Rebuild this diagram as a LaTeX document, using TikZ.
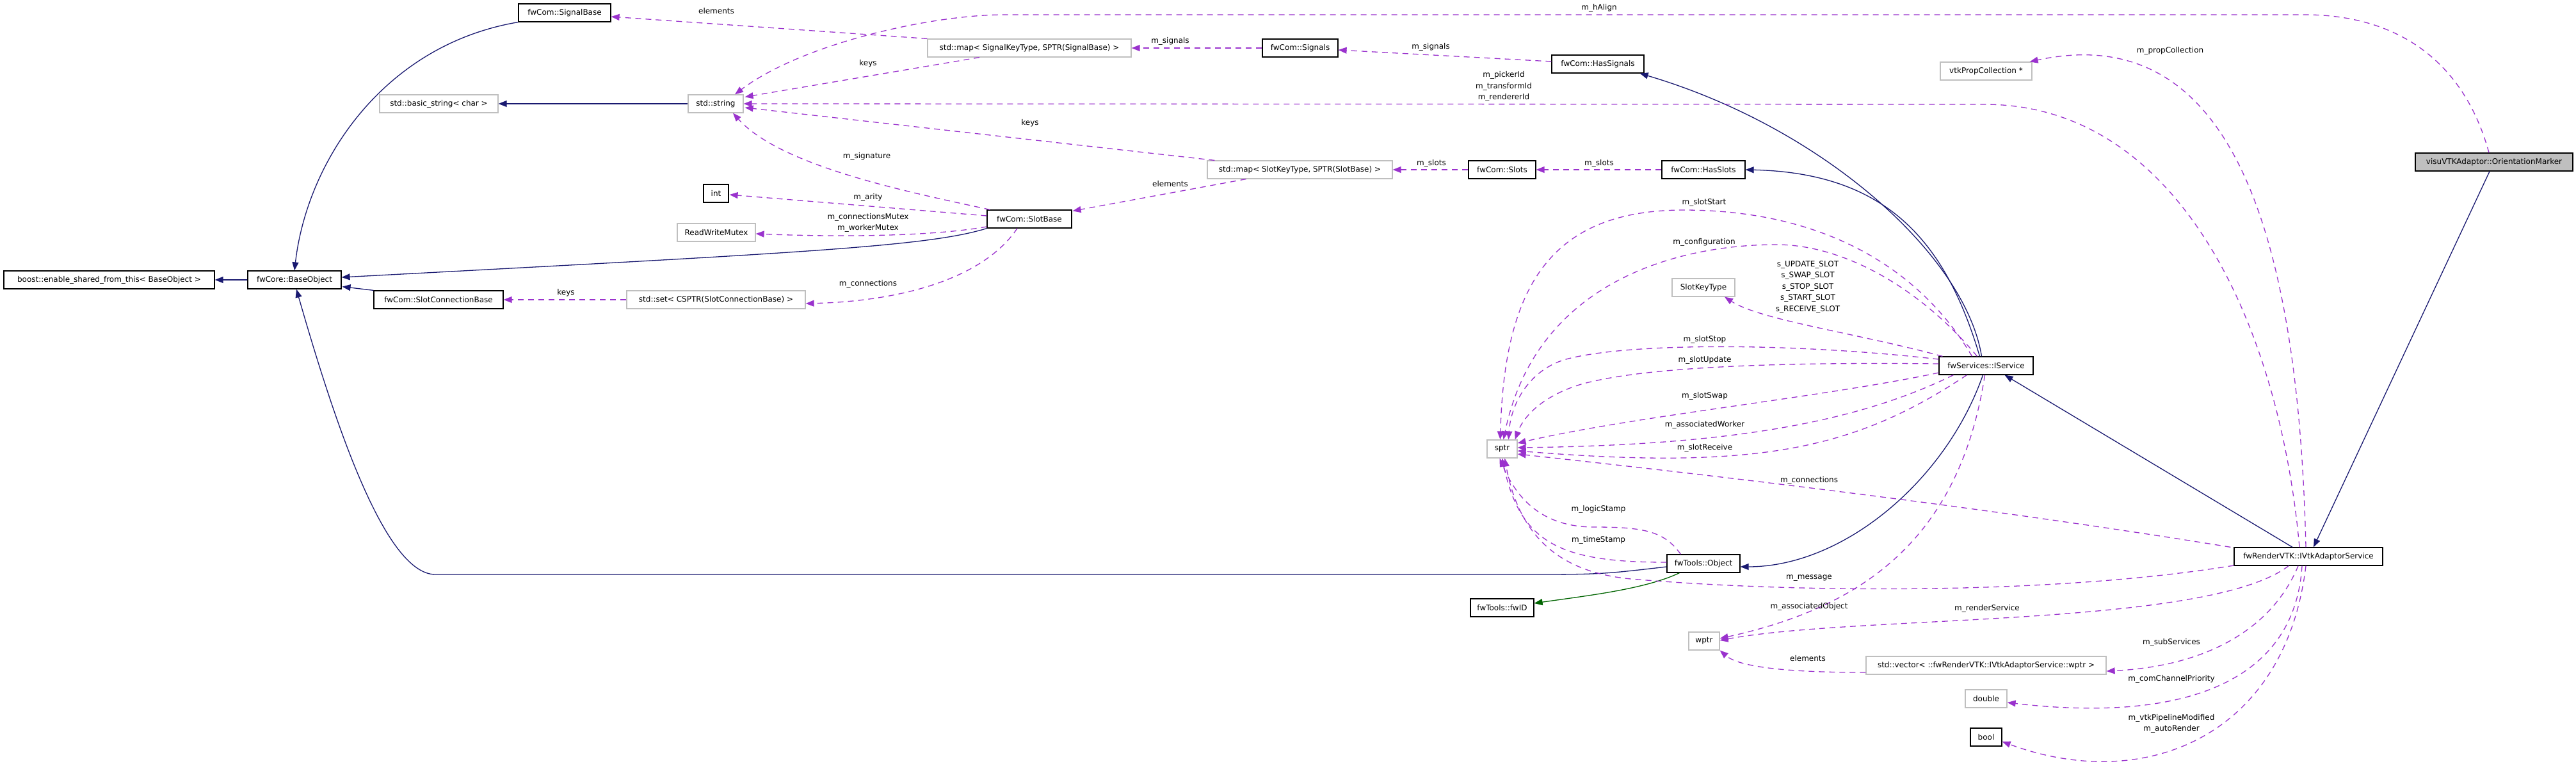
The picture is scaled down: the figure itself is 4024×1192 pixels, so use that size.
\documentclass[tikz,border=0pt]{standalone}
\usepackage{fontspec}
\setmainfont{DejaVu Sans}
\usetikzlibrary{arrows.meta,calc}
\definecolor{blu}{HTML}{191970}
\definecolor{purp}{HTML}{9A32CD}
\definecolor{grn}{HTML}{006400}
\definecolor{gbord}{HTML}{BFBFBF}
\begin{document}
\begin{tikzpicture}[x=1pt,y=-1pt,
 every node/.style={font=\fontsize{12}{17.5}\selectfont},
 cls/.style={draw=black,line width=1.2pt,fill=white,minimum height=28pt,inner sep=0pt},
 ext/.style={cls,draw=gbord},
 inh/.style={draw=blu,line width=1.3pt,-{Triangle[length=13pt,width=10pt]}},
 prot/.style={draw=grn,line width=1.3pt,-{Triangle[length=13pt,width=10pt]}},
 use/.style={draw=purp,line width=1.3pt,dash pattern=on 9pt off 7pt,-{Triangle[length=13pt,width=10pt]}},
 lbl/.style={text=black,inner sep=0pt,align=center}]
\useasboundingbox (0,0) rectangle (4024,1192);
% nodes
\node[cls,minimum width=144pt] (sigbase) at (882,20) {fwCom::SignalBase};
\node[ext,minimum width=185pt] (bstr) at (685.5,162) {std::basic\_string< char >};
\node[ext,minimum width=86pt] (str) at (1118,162) {std::string};
\node[cls,minimum width=329pt] (boost) at (170.5,437) {boost::enable\_shared\_from\_this< BaseObject >};
\node[cls,minimum width=146pt] (base) at (460,437) {fwCore::BaseObject};
\node[cls,minimum width=202pt] (scb) at (685,468) {fwCom::SlotConnectionBase};
\node[ext,minimum width=279pt] (nset) at (1118.5,468) {std::set< CSPTR(SlotConnectionBase) >};
\node[cls,minimum width=39pt] (nint) at (1118.5,302) {int};
\node[ext,minimum width=122pt] (rwm) at (1119,363) {ReadWriteMutex};
\node[ext,minimum width=318pt] (mapsig) at (1608,75) {std::map< SignalKeyType, SPTR(SignalBase) >};
\node[cls,minimum width=118pt] (signals) at (2031,75) {fwCom::Signals};
\node[cls,minimum width=132pt] (slotbase) at (1608,342) {fwCom::SlotBase};
\node[ext,minimum width=289pt] (mapslot) at (2030.5,265) {std::map< SlotKeyType, SPTR(SlotBase) >};
\node[cls,minimum width=144pt] (hassig) at (2496,100) {fwCom::HasSignals};
\node[cls,minimum width=105pt] (slots) at (2346.5,265) {fwCom::Slots};
\node[cls,minimum width=130pt] (hasslots) at (2661,265) {fwCom::HasSlots};
\node[ext,minimum width=143pt] (vtkprop) at (3102.5,111) {vtkPropCollection *};
\node[cls,fill=gbord,minimum width=246pt] (orient) at (3896,253) {visuVTKAdaptor::OrientationMarker};
\node[ext,minimum width=98pt] (slotkey) at (2661,449) {SlotKeyType};
\node[cls,minimum width=147pt] (iservice) at (3102.5,571) {fwServices::IService};
\node[ext,minimum width=47pt] (sptr) at (2346.5,701) {sptr};
\node[cls,minimum width=114pt] (object) at (2661,880) {fwTools::Object};
\node[cls,minimum width=99pt] (fwid) at (2346.5,949) {fwTools::fwID};
\node[ext,minimum width=48pt] (wptr) at (2662,1001) {wptr};
\node[ext,minimum width=375pt] (vector) at (3102.5,1039) {std::vector< ::fwRenderVTK::IVtkAdaptorService::wptr >};
\node[ext,minimum width=65pt] (ndouble) at (3102.5,1091) {double};
\node[cls,minimum width=49pt] (nbool) at (3102.5,1151) {bool};
\node[cls,minimum width=232pt] (ivtk) at (3606,869) {fwRenderVTK::IVtkAdaptorService};
% inheritance
\draw[inh] (sigbase.south west) .. controls (600,70) and (480,250) .. (base.north);
\draw[inh] (str.west) -- (bstr.east);
\draw[inh] (base.west) -- (boost.east);
\draw[inh] (scb.north west) -- ($(base.south east)+(1,-4)$);
\draw[inh] (slotbase.south west) .. controls (1450,385) and (1250,395) .. ($(base.east)+(0,-4)$);
\draw[inh] ($(object.west)+(0,5)$) .. controls (2500,897) .. (2374,897) -- (680,897) .. controls (600,897) and (520,650) .. ($(base.south)+(3,0)$);
\draw[inh] ($(iservice.north)+(-7,0)$) .. controls (3070,400) and (2850,200) .. ($(hassig.south east)+(-7,0)$);
\draw[inh] ($(iservice.north)+(-10,0)$) .. controls (3040,380) and (2950,270) .. (hasslots.east);
\draw[inh] ($(ivtk.north)+(-25,0)$) -- ($(iservice.south)+(29,0)$);
\draw[inh] ($(orient.south)+(-7,0)$) -- ($(ivtk.north)+(8,0)$);
\draw[inh] ($(iservice.south)+(-5,0)$) .. controls (3040,750) and (2880,885) .. ($(object.east)+(0,5)$);
\draw[prot] ($(object.south west)+(20,0)$) .. controls (2570,920) and (2480,930) .. ($(fwid.east)+(0,-7)$);
% usage
\draw[use] ($(hassig.west)+(0,-4)$) -- ($(signals.east)+(0,3)$) node[lbl] at (2235,73) {m\_signals};
\draw[use] (signals.west) -- (mapsig.east) node[lbl] at (1828,64) {m\_signals};
\draw[use] (mapsig.north west) -- ($(sigbase.east)+(0,6)$) node[lbl] at (1119,17) {elements};
\draw[use] ($(mapsig.south)+(-78,0)$) -- ($(str.north east)+(2,4)$) node[lbl] at (1356,99) {keys};
\draw[use] (hasslots.west) -- (slots.east) node[lbl] at (2498,255) {m\_slots};
\draw[use] (slots.west) -- (mapslot.east) node[lbl] at (2236,255) {m\_slots};
\draw[use] ($(mapslot.north west)+(12,0)$) -- ($(str.east)+(2,6)$) node[lbl] at (1609,192) {keys};
\draw[use] ($(mapslot.south)+(-84,0)$) -- ($(slotbase.north east)+(1,2)$) node[lbl] at (1828,287) {elements};
\draw[use] ($(slotbase.north west)+(5,0)$) .. controls (1420,300) and (1220,260) .. ($(str.south)+(27,0)$) node[lbl] at (1354,244) {m\_signature};
\draw[use] ($(slotbase.west)+(0,-5)$) -- ($(nint.east)+(1,2)$) node[lbl] at (1356,308) {m\_arity};
\draw[use] ($(slotbase.west)+(0,12)$) .. controls (1450,370) and (1300,370) .. ($(rwm.east)+(0,2)$) node[lbl] at (1356,348) {m\_connectionsMutex\\m\_workerMutex};
\draw[use] ($(slotbase.south)+(-19,0)$) .. controls (1540,430) and (1420,470) .. ($(nset.east)+(0,6)$) node[lbl] at (1356,443) {m\_connections};
\draw[use] (nset.west) -- (scb.east) node[lbl] at (884,457) {keys};
\draw[use] ($(orient.north)+(-8,0)$) .. controls (3850,100) and (3750,23) .. (3600,23) -- (1570,23) .. controls (1450,23) and (1250,70) .. ($(str.north)+(30,0)$) node[lbl] at (2498,12) {m\_hAlign};
\draw[use] ($(ivtk.north)+(-14,0)$) .. controls (3560,500) and (3400,163) .. (3100,163) -- (str.east) node[lbl] at (2349,135) {m\_pickerId\\m\_transformId\\m\_rendererId};
\draw[use] ($(ivtk.north)+(-4,0)$) .. controls (3590,350) and (3480,30) .. ($(vtkprop.north east)+(-4,0)$) node[lbl] at (3390,79) {m\_propCollection};
\draw[use] ($(iservice.north west)+(6,0)$) .. controls (2900,520) and (2750,500) .. ($(slotkey.south)+(33,0)$) node[lbl] at (2824,448) {s\_UPDATE\_SLOT\\s\_SWAP\_SLOT\\s\_STOP\_SLOT\\s\_START\_SLOT\\s\_RECEIVE\_SLOT};
\draw[use] ($(iservice.north)+(-22,0)$) .. controls (3000,420) and (2850,328) .. (2630,328) .. controls (2420,328) and (2350,450) .. ($(sptr.north)+(-3,0)$) node[lbl] at (2662,316) {m\_slotStart};
\draw[use] ($(iservice.north)+(-14,0)$) .. controls (3000,450) and (2880,382) .. (2775,382) .. controls (2620,382) and (2400,440) .. ($(sptr.north)+(2,0)$) node[lbl] at (2662,378) {m\_configuration};
\draw[use] ($(iservice.west)+(0,-10)$) .. controls (2800,535) and (2550,535) .. (2450,560) .. controls (2390,575) and (2360,630) .. ($(sptr.north)+(10,0)$) node[lbl] at (2663,530) {m\_slotStop};
\draw[use] ($(iservice.west)+(0,-3)$) .. controls (2750,565) and (2560,575) .. (2470,600) .. controls (2410,618) and (2380,650) .. ($(sptr.north east)+(-4,0)$) node[lbl] at (2663,562) {m\_slotUpdate};
\draw[use] ($(iservice.west)+(0,11)$) .. controls (2850,620) and (2550,650) .. ($(sptr.east)+(0,-9)$) node[lbl] at (2663,618) {m\_slotSwap};
\draw[use] ($(iservice.south west)+(23,0)$) .. controls (2900,660) and (2700,695) .. ($(sptr.east)+(0,-2)$) node[lbl] at (2663,663) {m\_associatedWorker};
\draw[use] ($(iservice.south west)+(44,0)$) .. controls (2900,700) and (2750,735) .. ($(sptr.east)+(0,3)$) node[lbl] at (2663,699) {m\_slotReceive};
\draw[use] ($(ivtk.north west)+(-5,0)$) .. controls (3150,800) and (2750,750) .. ($(sptr.east)+(0,8)$) node[lbl] at (2826,750) {m\_connections};
\draw[use] ($(ivtk.west)+(0,14)$) .. controls (3200,930) and (2800,925) .. (2560,905) .. controls (2450,898) and (2375,850) .. ($(sptr.south)+(4,0)$) node[lbl] at (2826,903) {m\_message};
\draw[use] ($(object.north west)+(22,0)$) .. controls (2600,830) and (2570,823) .. (2490,823) .. controls (2410,823) and (2370,780) .. ($(sptr.south)+(-4,0)$) node[lbl] at (2497,795) {m\_logicStamp};
\draw[use] ($(object.west)+(0,-2)$) .. controls (2440,878) and (2375,850) .. (sptr.south) node[lbl] at (2497,843) {m\_timeStamp};
\draw[use] ($(iservice.south)+(-2,0)$) .. controls (3060,850) and (2900,950) .. ($(wptr.east)+(0,-4)$) node[lbl] at (2826,947) {m\_associatedObject};
\draw[use] ($(ivtk.south)+(-31,0)$) .. controls (3450,980) and (2900,960) .. ($(wptr.east)+(0,-1)$) node[lbl] at (3104,950) {m\_renderService};
\draw[use] ($(vector.west)+(0,11)$) .. controls (2780,1050) and (2715,1040) .. (wptr.south east) node[lbl] at (2824,1028) {elements};
\draw[use] ($(ivtk.south)+(-16,0)$) .. controls (3550,980) and (3450,1040) .. ($(vector.east)+(0,9)$) node[lbl] at (3392,1003) {m\_subServices};
\draw[use] ($(ivtk.south)+(-10,0)$) .. controls (3585,1060) and (3420,1130) .. ($(ndouble.east)+(0,6)$) node[lbl] at (3392,1060) {m\_comChannelPriority};
\draw[use] ($(ivtk.south)+(-4,0)$) .. controls (3570,1150) and (3350,1240) .. ($(nbool.east)+(0,7)$) node[lbl] at (3392,1130) {m\_vtkPipelineModified\\m\_autoRender};
\end{tikzpicture}
\end{document}
